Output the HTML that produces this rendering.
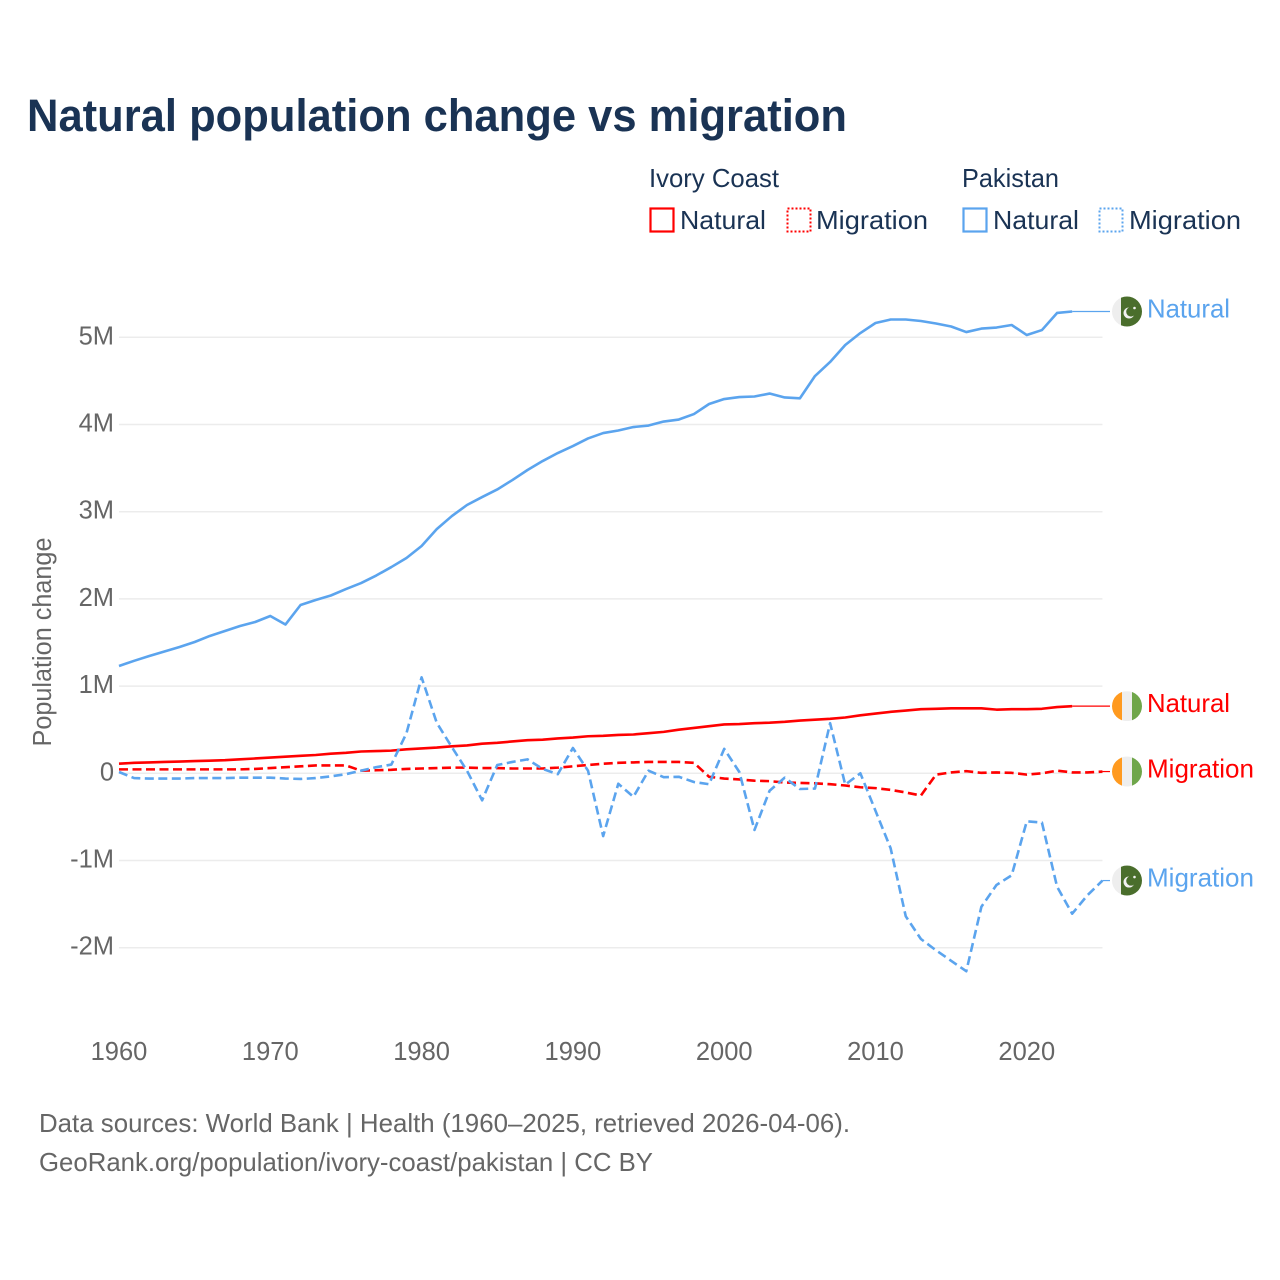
<!DOCTYPE html>
<html lang="en">
<head>
<meta charset="utf-8">
<title>Natural population change vs migration</title>
<style>
html,body{margin:0;padding:0;background:#fff;}
svg{display:block;}
text{font-family:"Liberation Sans",sans-serif;}
</style>
</head>
<body>
<svg id="chart" xmlns="http://www.w3.org/2000/svg" width="1280" height="1280" viewBox="0 0 1280 1280">
  <rect x="0" y="0" width="1280" height="1280" fill="#ffffff"/>
  <text x="27" y="131" font-size="45" font-weight="700" fill="#1a3354" textLength="820" lengthAdjust="spacingAndGlyphs">Natural population change vs migration</text>

  <g font-size="26" fill="#1a3354">
    <text x="649" y="187" textLength="130" lengthAdjust="spacingAndGlyphs">Ivory Coast</text>
    <text x="962" y="187" textLength="97" lengthAdjust="spacingAndGlyphs">Pakistan</text>
    <g>
      <rect x="650.5" y="208.5" width="23" height="23" fill="none" stroke="#ff0000" stroke-width="2.2"/>
      <text x="680" y="229" textLength="86" lengthAdjust="spacingAndGlyphs">Natural</text>
    </g>
    <g>
      <rect x="787.5" y="208.5" width="23" height="23" fill="none" stroke="#ff0000" stroke-width="2" stroke-dasharray="2 2"/>
      <text x="816" y="229" textLength="112" lengthAdjust="spacingAndGlyphs">Migration</text>
    </g>
    <g>
      <rect x="963.5" y="208.5" width="23" height="23" fill="none" stroke="#5ba4ee" stroke-width="2.2"/>
      <text x="993" y="229" textLength="86" lengthAdjust="spacingAndGlyphs">Natural</text>
    </g>
    <g>
      <rect x="1099.5" y="208.5" width="23" height="23" fill="none" stroke="#5ba4ee" stroke-width="2" stroke-dasharray="2 2"/>
      <text x="1129" y="229" textLength="112" lengthAdjust="spacingAndGlyphs">Migration</text>
    </g>
  </g>

  <g id="grid"></g>
  <g id="yticks"></g>
  <g id="xticks"></g>
  <text transform="translate(51,642) rotate(-90)" text-anchor="middle" font-size="25.5" fill="#666666" textLength="209" lengthAdjust="spacingAndGlyphs">Population change</text>
  <g id="series"></g>
  <g id="endlabels"></g>

  <g font-size="26" fill="#666666">
    <text x="39" y="1132" textLength="811" lengthAdjust="spacingAndGlyphs">Data sources: World Bank | Health (1960–2025, retrieved 2026-04-06).</text>
    <text x="39" y="1171" textLength="614" lengthAdjust="spacingAndGlyphs">GeoRank.org/population/ivory-coast/pakistan | CC BY</text>
  </g>
</svg>
<script>
const startYear = 1960;
const xTickYears = [1960, 1970, 1980, 1990, 2000, 2010, 2020];
const yTickValues = [5, 4, 3, 2, 1, 0, -1, -2];
const yTickLabels = ["5M", "4M", "3M", "2M", "1M", "0", "-1M", "-2M"];

const pakistanNatural = [1.23,1.29,1.345,1.397,1.448,1.506,1.575,1.632,1.689,1.735,1.804,1.706,1.93,1.987,2.039,2.113,2.182,2.268,2.365,2.469,2.607,2.80,2.95,3.077,3.168,3.255,3.363,3.478,3.581,3.673,3.753,3.84,3.902,3.931,3.971,3.988,4.034,4.057,4.12,4.235,4.292,4.315,4.321,4.355,4.31,4.30,4.556,4.717,4.912,5.049,5.164,5.204,5.204,5.187,5.158,5.124,5.06,5.10,5.112,5.141,5.026,5.083,5.279,5.296];
const pakistanMigration = [0.015,-0.055,-0.06,-0.06,-0.06,-0.055,-0.055,-0.055,-0.05,-0.05,-0.05,-0.06,-0.065,-0.055,-0.035,-0.01,0.03,0.07,0.10,0.46,1.10,0.58,0.30,0.03,-0.31,0.095,0.13,0.16,0.05,-0.01,0.29,0.03,-0.72,-0.12,-0.27,0.03,-0.045,-0.04,-0.10,-0.125,0.28,0.015,-0.65,-0.20,-0.05,-0.18,-0.175,0.575,-0.13,0.0,-0.43,-0.86,-1.64,-1.90,-2.03,-2.15,-2.27,-1.53,-1.28,-1.17,-0.55,-0.565,-1.30,-1.61,-1.40,-1.23];
const ivoryNatural = [0.11,0.12,0.125,0.13,0.135,0.14,0.145,0.15,0.16,0.17,0.18,0.19,0.20,0.21,0.225,0.235,0.25,0.255,0.26,0.275,0.285,0.295,0.31,0.32,0.34,0.35,0.365,0.38,0.385,0.40,0.41,0.425,0.43,0.44,0.445,0.46,0.475,0.50,0.52,0.54,0.56,0.565,0.575,0.58,0.59,0.605,0.615,0.625,0.64,0.665,0.685,0.705,0.72,0.735,0.74,0.745,0.745,0.745,0.73,0.735,0.735,0.74,0.76,0.77];
const ivoryMigration = [0.045,0.045,0.045,0.045,0.045,0.045,0.045,0.045,0.045,0.05,0.06,0.07,0.08,0.09,0.09,0.09,0.03,0.035,0.04,0.05,0.055,0.06,0.065,0.065,0.06,0.06,0.055,0.055,0.055,0.065,0.08,0.095,0.11,0.12,0.125,0.13,0.13,0.13,0.12,-0.04,-0.06,-0.07,-0.085,-0.09,-0.105,-0.11,-0.115,-0.125,-0.14,-0.16,-0.17,-0.19,-0.22,-0.255,-0.015,0.01,0.025,0.005,0.01,0.005,-0.015,0,0.03,0.01,0.01,0.02];

const svgNS = "http://www.w3.org/2000/svg";
const endYear = 2025;
const BLUE = "#5ba4ee";
const RED = "#ff0000";
function xScale(year){ return 119 + (year - startYear) * 15.13; }
function yScale(value){ return 773.3 - value * 87.2; }
function make(tag, attrs, parent){
  const el = document.createElementNS(svgNS, tag);
  for (const k in attrs) el.setAttribute(k, attrs[k]);
  parent.appendChild(el);
  return el;
}

const gridGroup = document.getElementById("grid");
const yTickGroup = document.getElementById("yticks");
yTickValues.forEach(function(v, i){
  const line = make("line", {x1: 119, x2: xScale(endYear), y1: yScale(v), y2: yScale(v), stroke: "#ececec", "stroke-width": 1.5}, gridGroup);
  
  
  const t = make("text", {x: 114, y: yScale(v) + 7, "text-anchor": "end", "font-size": 25.5, fill: "#666666"}, yTickGroup);
  
  
  t.textContent = yTickLabels[i];
});

const xTickGroup = document.getElementById("xticks");
xTickYears.forEach(function(year){
  const t = make("text", {x: xScale(year), y: 1060, "text-anchor": "middle", "font-size": 25.5, fill: "#666666"}, xTickGroup);
  
  
  t.textContent = String(year);
});

const seriesGroup = document.getElementById("series");
function pathFor(values){
  return values.map(function(v, i){
    return (i ? "L" : "M") + xScale(startYear + i).toFixed(2) + " " + yScale(v).toFixed(2);
  }).join(" ");
}
function drawSeries(values, color, dashed, name){
  const p = make("path", {d: pathFor(values), fill: "none", stroke: color, "stroke-width": 2.6, "stroke-linejoin": "round"}, seriesGroup);
  if (dashed) p.setAttribute("stroke-dasharray", "9 4.5");
  
  
}
drawSeries(ivoryNatural, RED, false, 'ivory-coast-natural-line');
drawSeries(ivoryMigration, RED, true, 'ivory-coast-migration-line');
drawSeries(pakistanMigration, BLUE, true, 'pakistan-migration-line');
drawSeries(pakistanNatural, BLUE, false, 'pakistan-natural-line');

const endGroup = document.getElementById("endlabels");
const flagX = 1127;
const flagR = 15;
let clipCount = 0;
function drawFlag(cy, country, parent){
  clipCount += 1;
  const id = "flagclip" + clipCount;
  const defs = make("defs", {}, parent);
  const clip = make("clipPath", {id: id}, defs);
  make("circle", {cx: flagX, cy: cy, r: flagR}, clip);
  const g = make("g", {"clip-path": "url(#" + id + ")"}, parent);
  if (country === "pakistan") {
    make("rect", {x: flagX - flagR, y: cy - flagR, width: 9, height: 30, fill: "#eeeeee"}, g);
    make("rect", {x: flagX - flagR + 9, y: cy - flagR, width: 21, height: 30, fill: "#4a6e2c"}, g);
    make("circle", {cx: flagX + 2, cy: cy + 1.5, r: 5.5, fill: "#f2f2f2"}, g);
    make("circle", {cx: flagX + 4, cy: cy + 0.3, r: 4.8, fill: "#4a6e2c"}, g);
    make("circle", {cx: flagX + 7.5, cy: cy - 3.5, r: 1.3, fill: "#f2f2f2"}, g);
  } else {
    make("rect", {x: flagX - flagR, y: cy - flagR, width: 10, height: 30, fill: "#ff9a1f"}, g);
    make("rect", {x: flagX - flagR + 10, y: cy - flagR, width: 10, height: 30, fill: "#eeeeee"}, g);
    make("rect", {x: flagX - flagR + 20, y: cy - flagR, width: 10, height: 30, fill: "#6fa64a"}, g);
  }
}
function drawEnd(values, color, country, text, name){
  const lastYear = startYear + values.length - 1;
  const lastValue = values[values.length - 1];
  const cy = yScale(lastValue);
  const g = make("g", {}, endGroup);
  
  
  const c = make("line", {x1: xScale(lastYear), x2: 1110, y1: cy, y2: cy, stroke: color, "stroke-width": 1.2}, g);
  
  
  drawFlag(cy, country, g);
  const t = make("text", {x: 1147, y: cy + 6, "font-size": 26, fill: color, textLength: text === "Natural" ? 83 : 107, lengthAdjust: "spacingAndGlyphs"}, g);
  
  
  t.textContent = text;
}
drawEnd(pakistanNatural, BLUE, "pakistan", "Natural", 'end-label-pakistan-natural');
drawEnd(ivoryNatural, RED, "ivory", "Natural", 'end-label-ivory-natural');
drawEnd(ivoryMigration, RED, "ivory", "Migration", 'end-label-ivory-migration');
drawEnd(pakistanMigration, BLUE, "pakistan", "Migration", 'end-label-pakistan-migration');
</script>
</body>
</html>
